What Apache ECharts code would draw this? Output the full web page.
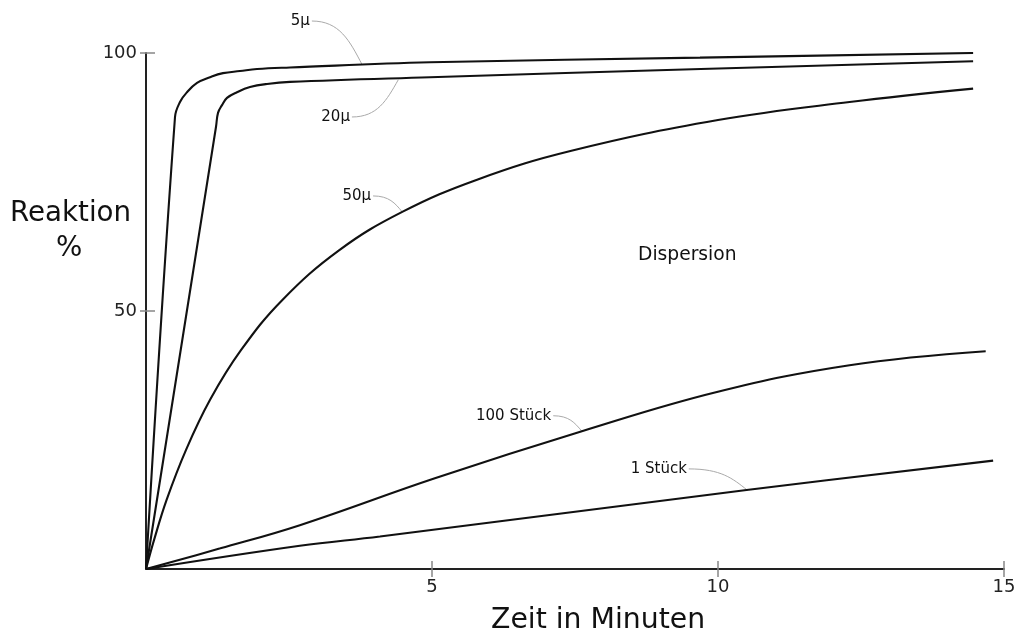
<!DOCTYPE html>
<html><head><meta charset="utf-8">
<script src="https://cdn.jsdelivr.net/npm/echarts@6/dist/echarts.min.js"></script>
<style>html,body{margin:0;padding:0;background:#fff}#c{width:1019px;height:637px}</style>
</head><body><div id="c"></div>
<script>
// Tick values
const xTicks = [5, 10, 15];
const yTicks = [50, 100];

// Curves: [time (min), reaction %]
const s5mu = [[0,0],[0.507,87.6],[0.594,90.5],[0.717,92.4],[0.892,94.2],[1.119,95.3],[1.346,96.1],[1.643,96.5],[1.941,96.9],[2.517,97.2],[4.965,98.2],[9.685,99.1],[14.46,100.0]];
const s20mu = [[0,0],[1.224,85.7],[1.259,88.4],[1.329,89.9],[1.416,91.3],[1.591,92.4],[1.818,93.4],[2.115,94.0],[2.517,94.4],[4.965,95.3],[9.7,96.9],[14.46,98.4]];
const s50mu = [[0,0],[0.14,5.6],[0.36,13.4],[0.70,23.1],[1.12,32.8],[1.66,42.4],[2.38,52.1],[3.38,61.8],[4.48,69.2],[5.8,75.5],[7.42,81.0],[10.0,87.0],[12.3,90.5],[14.46,93.1]];
const s100 = [[0,0],[1.3,4.0],[2.69,8.5],[5.05,17.6],[7.62,26.7],[9.98,34.3],[12.3,39.5],[14.68,42.2]];
const s1 = [[0,0],[2.69,4.5],[4.09,6.3],[10.5,15.3],[14.81,21.0]];

// Curve labels: text, leader start [t, %], leader end on curve [t, %]
const labelTexts = ['5μ', '20μ', '50μ', '100 Stück', '1 Stück'];
const leaderStart = [[2.90,106.2],[3.60,87.6],[3.97,72.3],[7.12,29.7],[9.49,19.4]];
const leaderEnd = [[3.78,97.7],[4.41,94.8],[4.48,69.2],[7.62,26.7],[10.51,15.3]];

const chart = echarts.init(document.getElementById('c'), null, {renderer:'canvas'});
const FONT = 'DejaVu Sans';
const lineStyle = {color:'#111', width:2.1};
const tickStyle = {color:'#888', width:1.5};

function curve(name, data){
  return {name, type:'line', data, smooth:0.4, symbol:'none', lineStyle, silent:true, z:3};
}

const option = {
  animation:false,
  backgroundColor:'#fff',
  grid:{left:146, right:15, top:53, bottom:68},
  xAxis:[{
    type:'value', min:0, max:15, interval:5, position:'bottom',
    axisLine:{show:true, onZero:false, lineStyle:{color:'#222', width:2}},
    axisTick:{show:false},
    axisLabel:{show:true, customValues:xTicks, margin:9, fontFamily:FONT, fontSize:18, color:'#222'},
    splitLine:{show:false}
  },{
    type:'value', min:0, max:15, interval:5, position:'bottom', offset:-8,
    axisLine:{show:false, onZero:false},
    axisTick:{show:true, length:16, customValues:xTicks, lineStyle:tickStyle},
    axisLabel:{show:false}, splitLine:{show:false}
  }],
  yAxis:[{
    type:'value', min:0, max:100, interval:50, position:'left',
    axisLine:{show:true, onZero:false, lineStyle:{color:'#222', width:2}},
    axisTick:{show:false},
    axisLabel:{show:true, customValues:yTicks, margin:9, padding:[8,0,0,0], fontFamily:FONT, fontSize:18, color:'#222'},
    splitLine:{show:false}
  },{
    type:'value', min:0, max:100, interval:50, position:'left', offset:-9,
    axisLine:{show:false, onZero:false},
    axisTick:{show:true, length:15, customValues:yTicks, lineStyle:tickStyle},
    axisLabel:{show:false}, splitLine:{show:false}
  }],
  graphic:[
    {type:'text', left:10, top:200, style:{text:'Reaktion', font:'27.7px "DejaVu Sans"', fill:'#111'}},
    {type:'text', left:56, top:235, style:{text:'%', font:'27.7px "DejaVu Sans"', fill:'#111'}},
    {type:'text', left:491, top:607, style:{text:'Zeit in Minuten', font:'28.3px "DejaVu Sans"', fill:'#111'}},
    {type:'text', left:638, top:246, style:{text:'Dispersion', font:'18.7px "DejaVu Sans"', fill:'#111'}}
  ],
  series:[
    curve('5μ', s5mu),
    curve('20μ', s20mu),
    curve('50μ', s50mu),
    curve('100 Stück', s100),
    curve('1 Stück', s1),
    {
      type:'custom', silent:true, z:2,
      data: leaderStart.map(p => p.slice()),
      encode:{x:0, y:1},
      renderItem:function(params, api){
        const i = params.dataIndex;
        const s = api.coord(leaderStart[i]);
        const e = api.coord(leaderEnd[i]);
        const dx = e[0]-s[0], dy = e[1]-s[1];
        return {type:'group', children:[
          {type:'bezierCurve', shape:{x1:s[0], y1:s[1], x2:e[0], y2:e[1],
            cpx1:s[0]+dx*0.55, cpy1:s[1], cpx2:e[0]-dx*0.25, cpy2:e[1]-dy*0.55},
            style:{stroke:'#aaa', lineWidth:1, fill:null}},
          {type:'text', x:s[0]-2, y:s[1], style:{text:labelTexts[i], font:'15px "DejaVu Sans"', fill:'#111', align:'right', verticalAlign:'middle'}}
        ]};
      }
    }
  ]
};
chart.setOption(option);
</script>
</body></html>
